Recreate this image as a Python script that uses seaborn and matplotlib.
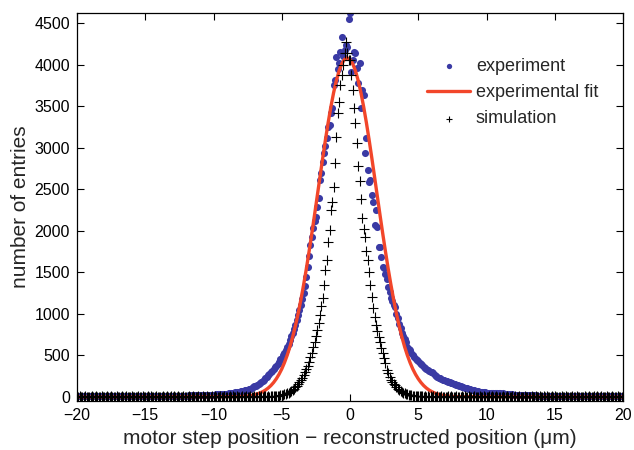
import numpy as np
import pandas as pd
import matplotlib
matplotlib.use("Agg")
import matplotlib.pyplot as plt
import seaborn as sns

# ---------------- data ----------------
# position grid of the histogram bins (um), step 0.1 from -20 to 20
x_step = 0.1
x_positions = np.round(np.arange(-200, 201) * x_step, 1)

experiment = [
    10, 8, 12, 9, 11, 7, 13, 10, 9, 12,
    8, 11, 10, 13, 9, 7, 12, 10, 11, 9,
    12, 10, 8, 11, 14, 9, 10, 12, 8, 11,
    10, 13, 9, 11, 12, 10, 8, 14, 11, 10,
    12, 9, 13, 11, 10, 14, 12, 9, 11, 13,
    11, 14, 10, 12, 15, 11, 13, 10, 14, 12,
    13, 11, 15, 12, 14, 16, 12, 13, 15, 14,
    15, 13, 16, 14, 17, 15, 18, 14, 16, 17,
    18, 16, 19, 17, 20, 18, 21, 19, 22, 20,
    22, 21, 24, 23, 25, 24, 27, 26, 28, 27,
    30, 29, 32, 31, 34, 33, 36, 35, 38, 40,
    42, 45, 44, 48, 50, 52, 55, 58, 62, 65,
    70, 72, 78, 80, 85, 90, 96, 102, 110, 118,
    128, 135, 146, 155, 168, 180, 195, 210, 228, 245,
    265, 280, 300, 318, 335, 360, 378, 400, 425, 455,
    470, 500, 530, 565, 600, 640, 680, 730, 770, 820,
    870, 925, 990, 1047, 1110, 1180, 1250, 1330, 1444, 1560,
    1700, 1830, 1925, 2030, 2120, 2166, 2290, 2395, 2611, 2700,
    2828, 2936, 3020, 3117, 3250, 3273, 3418, 3478, 3755, 3815,
    4090, 3950, 4020, 4150, 4330, 4100, 4180, 4235, 4210, 4550,
    4620, 3910, 4060, 4150, 4140, 3960, 3780, 4020, 3478, 3695,
    3635, 2936, 3117, 2731, 2587, 2611, 2430, 2350, 2070, 2250,
    2046, 1805, 1805, 1685, 1565, 1552, 1480, 1420, 1324, 1260,
    1190, 1150, 1110, 1083, 1000, 950, 880, 830, 770, 740,
    700, 660, 600, 580, 560, 530, 500, 480, 460, 445,
    430, 410, 395, 380, 365, 350, 340, 325, 315, 305,
    295, 285, 270, 255, 240, 232, 225, 218, 210, 200,
    195, 188, 182, 176, 170, 165, 160, 152, 145, 140,
    133, 128, 124, 118, 114, 110, 108, 100, 95, 90,
    85, 80, 76, 72, 68, 65, 62, 60, 57, 55,
    53, 51, 52, 49, 50, 48, 47, 49, 46, 45,
    44, 42, 43, 40, 41, 38, 36, 35, 33, 32,
    30, 29, 28, 27, 26, 25, 24, 24, 23, 22,
    21, 20, 21, 19, 20, 18, 19, 17, 18, 16,
    17, 15, 16, 14, 15, 16, 13, 15, 14, 12,
    14, 13, 12, 14, 11, 13, 12, 10, 13, 11,
    12, 10, 11, 13, 9, 12, 10, 11, 9, 12,
    10, 11, 9, 12, 10, 8, 11, 10, 9, 11,
    9, 10, 12, 8, 11, 9, 10, 8, 11, 9,
    10, 8, 9, 11, 8, 10, 9, 7, 10, 9,
    8,
]

simulation = [
    5, 3, 7, 4, 6, 2, 8, 5, 4, 6,
    3, 7, 5, 4, 8, 6, 3, 5, 7, 4,
    6, 4, 8, 5, 3, 7, 5, 6, 4, 8,
    5, 3, 6, 7, 4, 5, 8, 3, 6, 5,
    7, 4, 5, 6, 3, 8, 5, 4, 7, 6,
    4, 6, 8, 5, 7, 3, 6, 5, 8, 4,
    6, 5, 3, 7, 4, 6, 8, 5, 4, 7,
    5, 7, 4, 6, 8, 5, 3, 6, 7, 5,
    4, 6, 7, 5, 3, 8, 6, 4, 5, 7,
    6, 5, 8, 4, 6, 7, 5, 3, 6, 8,
    5, 7, 4, 6, 5, 8, 6, 4, 7, 5,
    6, 4, 8, 5, 7, 6, 3, 7, 5, 6,
    5, 7, 6, 4, 8, 5, 6, 7, 5, 6,
    7, 5, 6, 8, 5, 7, 6, 8, 7, 6,
    7, 6, 8, 9, 10, 11, 12, 14, 16, 20,
    24, 28, 34, 40, 46, 54, 63, 74, 86, 100,
    116, 135, 155, 178, 202, 230, 262, 297, 335, 378,
    425, 478, 535, 598, 665, 735, 810, 895, 990, 1095,
    1195, 1348, 1528, 1649, 1865, 2010, 2250, 2347, 2527, 2816,
    3130, 3418, 3550, 3755, 3875, 4000, 4140, 4270, 4140, 4055,
    4055, 3875, 3695, 3480, 3297, 3050, 2780, 2600, 2380, 2150,
    2020, 1925, 1760, 1649, 1504, 1350, 1200, 1071, 963, 866,
    800, 720, 662, 590, 530, 470, 415, 330, 290, 245,
    204, 185, 160, 144, 120, 100, 84, 73, 62, 54,
    48, 40, 34, 29, 25, 21, 18, 15, 13, 11,
    9, 8, 7, 8, 6, 7, 5, 8, 6, 7,
    5, 7, 6, 4, 8, 5, 6, 7, 5, 6,
    4, 6, 8, 5, 7, 3, 6, 5, 7, 4,
    6, 5, 7, 4, 8, 6, 3, 7, 5, 6,
    5, 7, 4, 6, 5, 8, 6, 4, 7, 5,
    6, 4, 8, 5, 7, 6, 3, 7, 5, 6,
    4, 6, 7, 5, 3, 8, 6, 4, 5, 7,
    5, 7, 4, 6, 8, 5, 3, 6, 7, 5,
    6, 5, 3, 7, 4, 6, 8, 5, 4, 7,
    4, 6, 8, 5, 7, 3, 6, 5, 8, 4,
    7, 4, 5, 6, 3, 8, 5, 4, 7, 6,
    5, 3, 6, 7, 4, 5, 8, 3, 6, 5,
    6, 4, 8, 5, 3, 7, 5, 6, 4, 8,
    3, 7, 5, 4, 8, 6, 3, 5, 7, 4,
    5, 3, 7, 4, 6, 2, 8, 5, 4, 6,
    5,
]

# experimental fit curve, sampled every 0.2 um from -8.2 to 7.8 (zero outside)
fit_x = [-20.0] + list(np.round(np.arange(-41, 40) * 0.2, 1)) + [20.0]
fit_core = [
    4, 6, 8, 11, 15, 20, 27, 37, 49, 64,
    83, 107, 137, 174, 219, 273, 337, 414, 503, 605,
    723, 856, 1004, 1169, 1348, 1541, 1748, 1964, 2188, 2417,
    2647, 2874, 3094, 3301, 3492, 3662, 3807, 3924, 4010, 4062,
    4080,
    4062, 4010, 3924, 3807, 3662, 3492, 3301, 3094, 2874, 2647,
    2417, 2188, 1964, 1748, 1541, 1348, 1169, 1004, 856, 723,
    605, 503, 414, 337, 273, 219, 174, 137, 107, 83,
    64, 49, 37, 27, 20, 15, 11, 8, 6, 4,
]
fit_y = [0] + fit_core + [0]

x_ticks = [-20, -15, -10, -5, 0, 5, 10, 15, 20]
y_ticks = [0, 500, 1000, 1500, 2000, 2500, 3000, 3500, 4000, 4500]
labels = ["experiment", "experimental fit", "simulation"]

df_exp = pd.DataFrame({"x": x_positions, "y": experiment})
df_sim = pd.DataFrame({"x": x_positions, "y": simulation})
df_fit = pd.DataFrame({"x": fit_x, "y": fit_y})

# ---------------- style ----------------
sns.set_theme(style="ticks")
plt.rcParams["font.family"] = ["Liberation Sans", "DejaVu Sans"]
plt.rcParams["axes.unicode_minus"] = True

BLUE = "#3a3aa4"
RED = "#f2462a"

fig = plt.figure(figsize=(6.34, 4.5), dpi=100)
ax = fig.add_axes([77 / 634, 1 - 401 / 450, 546 / 634, 388 / 450])

sns.scatterplot(data=df_exp, x="x", y="y", ax=ax, color=BLUE, s=26,
                linewidth=0, marker="o", label=labels[0], zorder=2)
sns.lineplot(data=df_fit, x="x", y="y", ax=ax, color=RED, linewidth=2.4,
             label=labels[1], zorder=3, estimator=None, sort=False)
sns.scatterplot(data=df_sim, x="x", y="y", ax=ax, color="black", s=44,
                linewidth=0.8, marker="+", label=labels[2], zorder=4)

ax.set_xlim(-20, 20)
ax.set_ylim(-48, 4620)
ax.set_xticks(x_ticks)
ax.set_yticks(y_ticks)
ax.tick_params(direction="in", top=True, right=True, length=5, width=0.8,
               labelsize=11.5, colors="black", pad=5)
for sp in ax.spines.values():
    sp.set_visible(True)
    sp.set_color("black")
    sp.set_linewidth(0.9)

ax.set_xlabel("motor step position \u2212 reconstructed position (\u03bcm)",
              fontsize=15, labelpad=4)
ax.set_ylabel("number of entries", fontsize=15, labelpad=3)

leg = ax.legend(loc="upper left", bbox_to_anchor=((427 - 77) / 546, 0.885),
                frameon=False, fontsize=13, borderpad=0, borderaxespad=0,
                handlelength=2.4, handletextpad=0.3, labelspacing=0.52,
                scatterpoints=1, markerscale=0.75)

fig.savefig("out.png", dpi=100)
